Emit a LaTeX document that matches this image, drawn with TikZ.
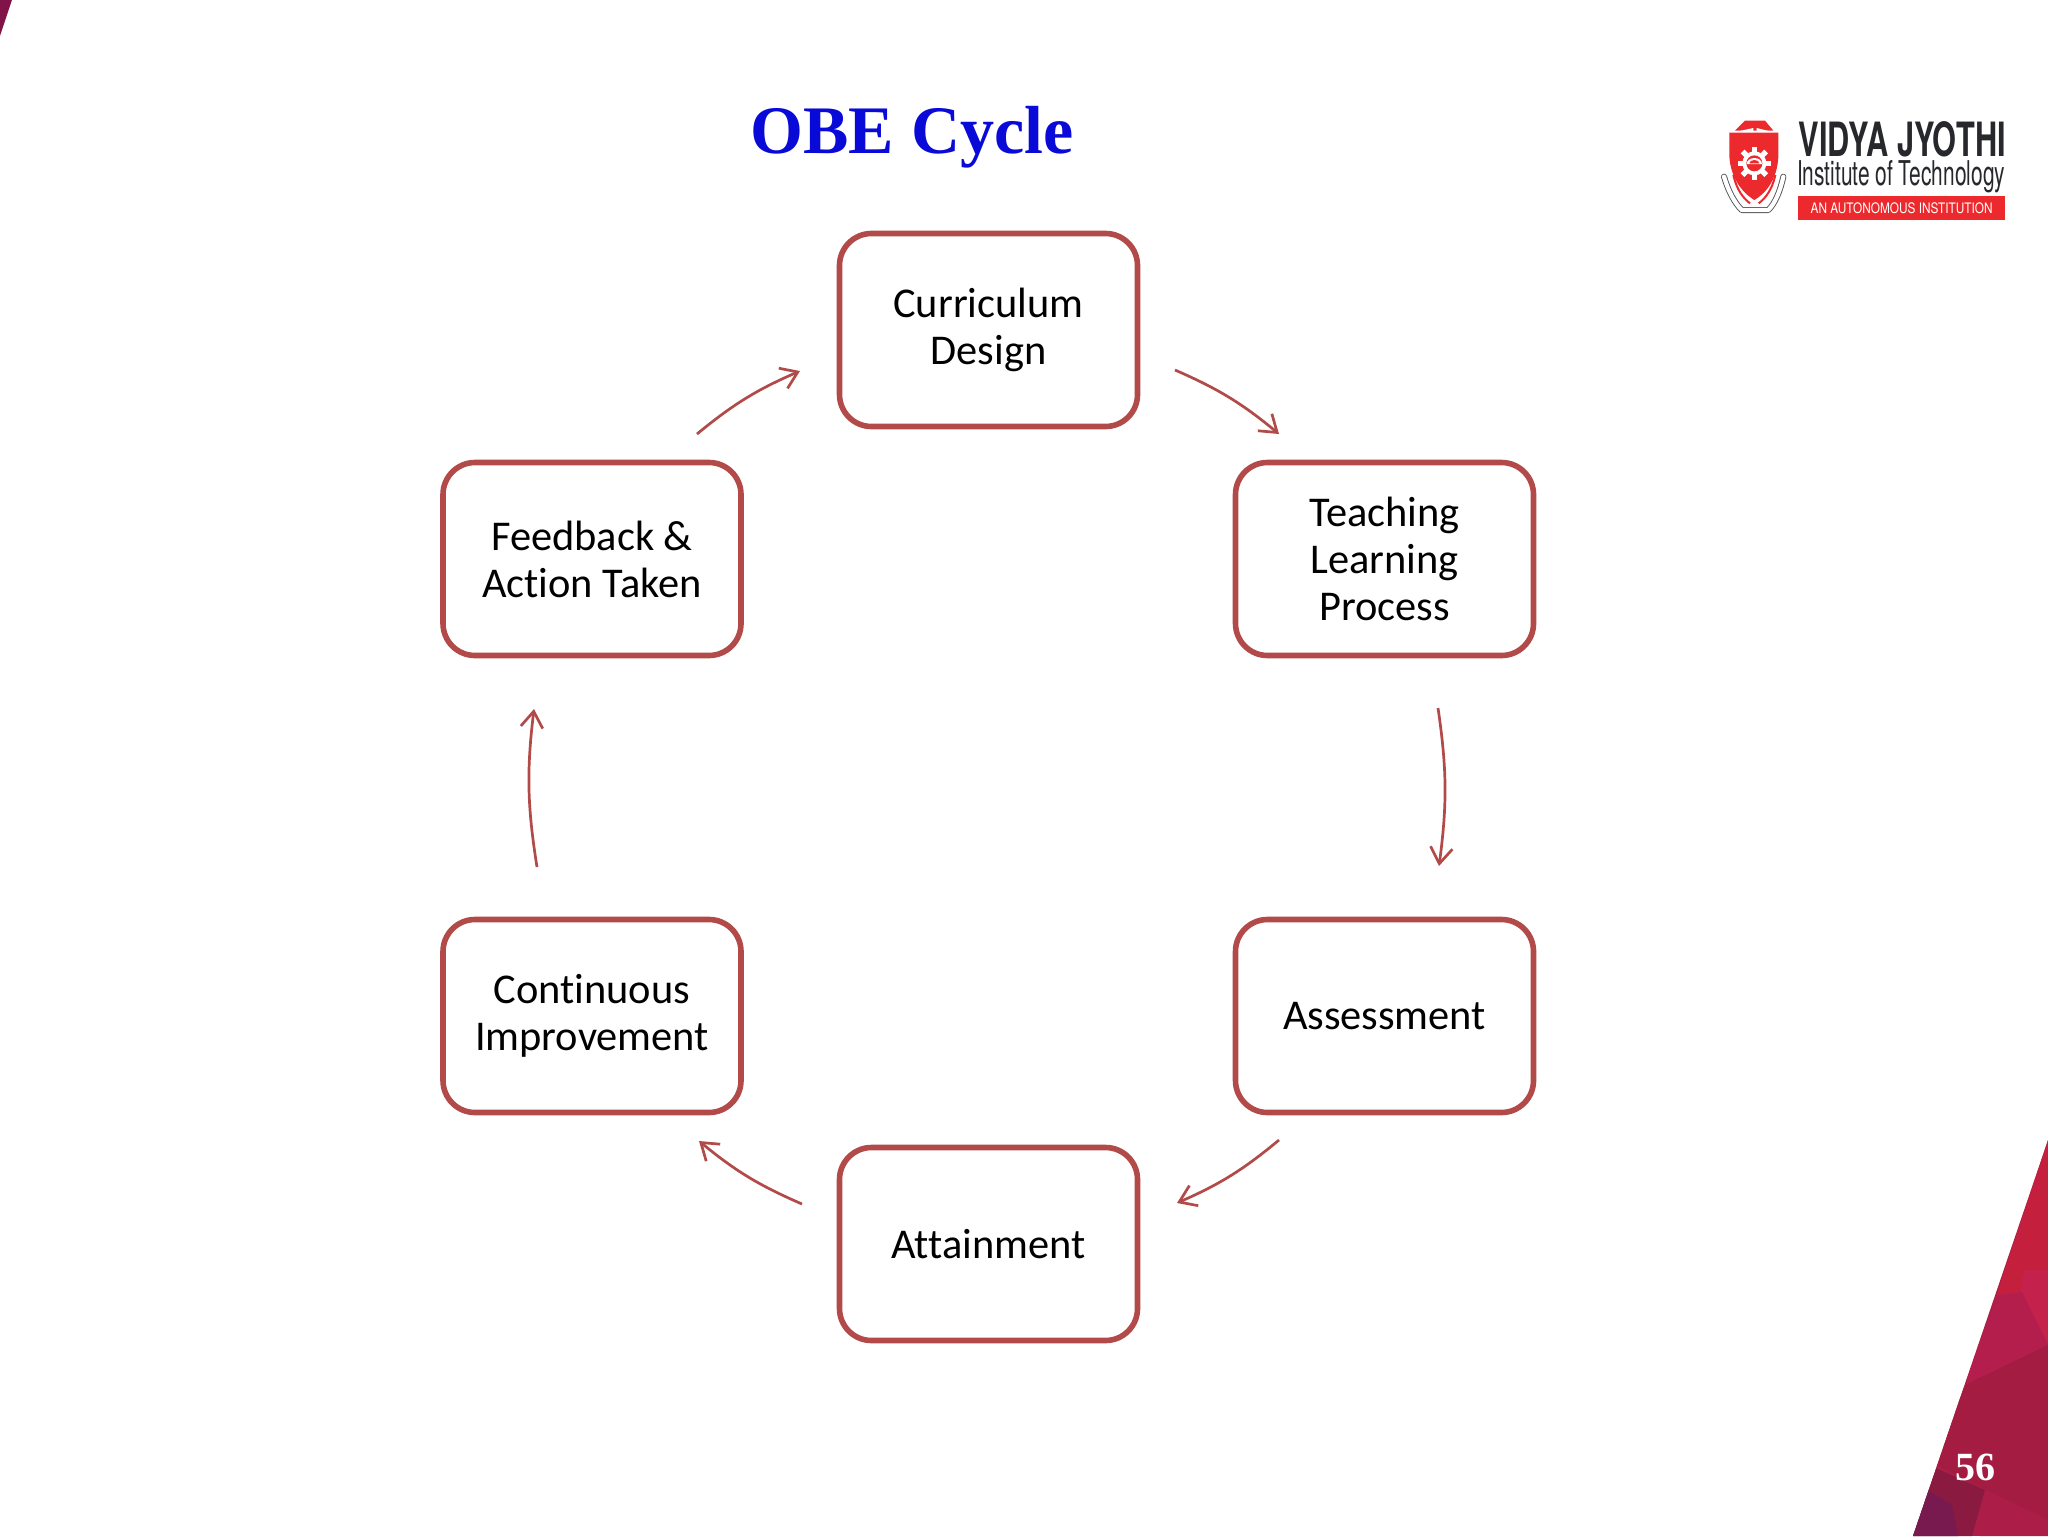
\documentclass[tikz,border=0pt]{standalone}
\usepackage{fontspec}
\usepackage{graphicx}
\setmainfont[Ligatures=NoCommon]{Carlito}
\newfontfamily\titlefont{Liberation Serif}
\newfontfamily\logofont{TeX Gyre Heros}
\usetikzlibrary{arrows.meta}
\definecolor{accentred}{HTML}{B14A48}
\definecolor{titleblue}{HTML}{0A0AD8}
\definecolor{logored}{HTML}{EC2A2E}
\definecolor{logoblack}{HTML}{26282C}
\tikzset{
  x=0.5pt,y=-0.5pt,
  cyclebox/.style={draw=accentred,line width=2.8pt,fill=white,rounded corners=16pt,
    minimum width=149pt,minimum height=96.5pt,inner sep=0pt,outer sep=0pt,align=center,
    font=\fontsize{21.2pt}{23.5pt}\selectfont,text=black},
  cyclearrow/.style={draw=accentred,line width=1.35pt,
    -{Straight Barb[length=8pt,width=11pt,line width=1.35pt]}},
  titletext/.style={font=\titlefont\bfseries\fontsize{34pt}{40pt}\selectfont,text=titleblue,inner sep=0pt},
  pagenum/.style={font=\titlefont\bfseries\fontsize{20pt}{24pt}\selectfont,text=white,inner sep=0pt},
}
\begin{document}
\begin{tikzpicture}
\useasboundingbox (0,0) rectangle (2048,1536);
\fill[white] (0,0) rectangle (2048,1536);
% corner decorations
\fill[fill={rgb,255:red,128;green,20;blue,72}] (0,0) -- (12,0) -- (0,36) -- cycle;
\begin{scope}
  \clip (2048,1140) -- (1913,1536) -- (2048,1536) -- cycle;
  \fill[fill={rgb,255:red,172;green,30;blue,70}] (1900,1130) rectangle (2048,1536);
  \fill[fill={rgb,255:red,196;green,32;blue,62}] (2048,1140) -- (1995,1300) -- (2048,1300) -- cycle;
  \fill[fill={rgb,255:red,196;green,34;blue,76}] (2025,1270) -- (2020,1290) -- (2048,1345) -- (2048,1270) -- cycle;
  \fill[fill={rgb,255:red,180;green,30;blue,76}] (1997,1295) -- (1965,1385) -- (2048,1345) -- (2022,1292) -- cycle;
  \fill[fill={rgb,255:red,164;green,28;blue,66}] (1965,1385) -- (1935,1465) -- (2048,1520) -- (2048,1345) -- cycle;
  \fill[fill={rgb,255:red,172;green,30;blue,72}] (1935,1465) -- (2048,1520) -- (2048,1536) -- (1980,1536) -- cycle;
  \fill[fill={rgb,255:red,138;green,26;blue,64}] (1936,1468) -- (1985,1490) -- (1972,1536) -- (1910,1536) -- cycle;
  \fill[fill={rgb,255:red,120;green,26;blue,80}] (1928,1490) -- (1952,1505) -- (1958,1536) -- (1910,1536) -- cycle;
\end{scope}
\node[pagenum] (page) at (1975,1467) {56};
% title
\node[titletext,anchor=base] (title) at (912,153) {OBE Cycle};
% logo
\begin{scope}[shift={(1700,100)},x=0.16667pt,y=-0.16667pt]
  % scrolls
  \draw[logoblack!80,line width=3pt,line cap=round,line join=round]
    (72,230) .. controls (85,275) and (105,310) .. (125,330) -- (205,330) .. controls (225,310) and (240,275) .. (250,230);
  \draw[white,line width=2.1pt,line cap=round,line join=round]
    (72,230) .. controls (85,275) and (105,310) .. (125,330) -- (205,330) .. controls (225,310) and (240,275) .. (250,230);
  \draw[logored,line width=1pt] (100,225) .. controls (110,270) and (130,295) .. (150,310);
  \draw[logored,line width=1pt] (226,225) .. controls (216,270) and (196,295) .. (176,310);
  % shield
  \fill[logored] (88,98) -- (235,98) -- (235,170) .. controls (232,230) and (205,275) .. (163,300) .. controls (122,275) and (92,230) .. (88,170) -- cycle;
  \fill[logored] (105,92) -- (135,62) -- (195,62) -- (220,92) -- cycle;
  \fill[white] (105,96) -- (160,84) -- (160,96) -- cycle;
  \fill[white] (218,96) -- (170,84) -- (170,96) -- cycle;
  % gear
  \foreach \a in {0,45,...,315}{
    \fill[white,rotate around={\a:(163,190)}] (155,140) rectangle (171,160);
  }
  \fill[white] (163,190) circle (36);
  \fill[logored] (163,190) circle (24);
  \fill[white] (140,192) arc (180:360:23 and 18) -- cycle;
  \fill[logored] (148,190) arc (180:360:15 and 10) -- cycle;
  \node[font=\logofont\bfseries,text=logoblack,inner sep=0pt,anchor=west] (logoname) at (295,118)
    {\resizebox{103.5pt}{17.5pt}{VIDYA JYOTHI}};
  \node[font=\logofont,text=logoblack,inner sep=0pt,anchor=west] (logosub) at (290,229)
    {\resizebox{104pt}{12.5pt}{Institute of Technology}};
  \fill[logored] (293,288) rectangle (915,360);
  \node[font=\logofont,text=white,inner sep=0pt] (logobar) at (605,325)
    {\resizebox{91pt}{5.4pt}{AN AUTONOMOUS INSTITUTION}};
\end{scope}
% boxes
\node[cyclebox] (cur) at (988.5,330) {Curriculum\\Design};
\node[cyclebox] (tea) at (1384.5,559) {Teaching\\Learning\\Process};
\node[cyclebox] (ass) at (1384.5,1016) {Assessment};
\node[cyclebox] (att) at (988.5,1244) {Attainment};
\node[cyclebox] (con) at (592,1016) {Continuous\\Improvement};
\node[cyclebox] (fee) at (592,559) {Feedback \&\\Action Taken};
% arrow ends
\coordinate (cur-out) at (1175,370);
\coordinate (tea-in) at (1279,434);
\coordinate (tea-out) at (1438,708);
\coordinate (ass-in) at (1439,866);
\coordinate (ass-out) at (1279,1140);
\coordinate (att-in) at (1177,1203);
\coordinate (att-out) at (802,1204);
\coordinate (con-in) at (699,1141);
\coordinate (con-out) at (537,867);
\coordinate (fee-in) at (534,709);
\coordinate (fee-out) at (697,434);
\coordinate (cur-in) at (800,371);
% arrows
\draw[cyclearrow] (cur-out) to[bend left=8] (tea-in);
\draw[cyclearrow] (tea-out) to[bend left=8] (ass-in);
\draw[cyclearrow] (ass-out) to[bend left=8] (att-in);
\draw[cyclearrow] (att-out) to[bend left=8] (con-in);
\draw[cyclearrow] (con-out) to[bend left=8] (fee-in);
\draw[cyclearrow] (fee-out) to[bend left=8] (cur-in);
\end{tikzpicture}
\end{document}
